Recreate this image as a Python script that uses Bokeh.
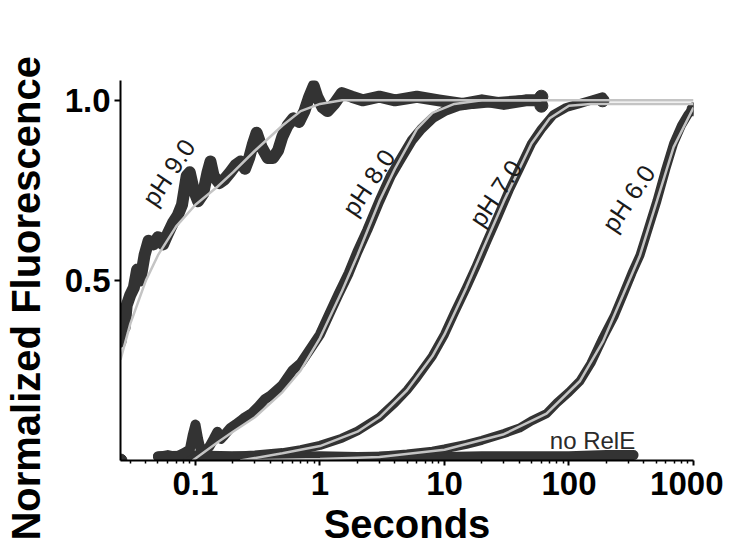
from bokeh.plotting import figure
from bokeh.models import Range1d, FixedTicker, CustomJSTickFormatter
from bokeh.core.properties import value
from bokeh.embed import file_html
from bokeh.resources import INLINE

# ---------------- data ----------------
ph9_t = [0.025, 0.026, 0.027, 0.028, 0.030, 0.032, 0.034, 0.036, 0.039, 0.042, 0.046, 0.050,
         0.055, 0.060, 0.066, 0.072, 0.078, 0.085, 0.090, 0.097, 0.105, 0.115, 0.125, 0.132,
         0.140, 0.155, 0.170, 0.190, 0.210, 0.230, 0.250, 0.270, 0.290, 0.310, 0.340, 0.380,
         0.420, 0.460, 0.500, 0.550, 0.610, 0.680, 0.750, 0.820, 0.890, 0.950, 1.05, 1.15,
         1.3, 1.5, 1.8, 2.2, 3.0, 4.0, 6.0, 9.0, 14.0, 20.0, 30.0, 45.0, 60.0]
ph9_y = [0.33, 0.40, 0.37, 0.43, 0.46, 0.48, 0.53, 0.50, 0.57, 0.61, 0.60, 0.62,
         0.60, 0.63, 0.66, 0.68, 0.71, 0.79, 0.80, 0.75, 0.72, 0.74, 0.80, 0.83,
         0.79, 0.77, 0.78, 0.80, 0.82, 0.83, 0.81, 0.84, 0.88, 0.91, 0.87, 0.84,
         0.84, 0.86, 0.90, 0.93, 0.95, 0.94, 0.97, 1.01, 1.04, 1.01, 0.98, 0.97,
         0.99, 1.02, 1.01, 1.00, 1.01, 1.00, 1.01, 1.00, 0.99, 1.00, 0.99, 1.00, 1.00]
ph9_fit_t = [0.025, 0.030, 0.040, 0.050, 0.070, 0.10, 0.15, 0.20, 0.30, 0.50, 0.70, 1.0, 1.5, 1000]
ph9_fit_y = [0.28, 0.38, 0.50, 0.57, 0.65, 0.71, 0.76, 0.80, 0.86, 0.93, 0.97, 0.99, 1.00, 1.00]

ph8_t = [0.05, 0.06, 0.07, 0.08, 0.09, 0.095, 0.10, 0.105, 0.11, 0.12, 0.13, 0.14, 0.15, 0.16,
         0.17, 0.19, 0.21, 0.23, 0.25, 0.28, 0.32, 0.36, 0.40, 0.50, 0.60, 0.70, 0.80, 1.0,
         1.2, 1.4, 1.7, 2.0, 2.4, 3.0, 3.7, 4.5, 5.5, 6.5, 8.0, 10.0, 13.0, 17.0, 25.0, 40.0, 60.0]
ph8_y = [0.01, 0.015, 0.01, 0.02, 0.03, 0.07, 0.10, 0.06, 0.03, 0.025, 0.04, 0.06, 0.08, 0.06,
         0.07, 0.09, 0.10, 0.11, 0.12, 0.13, 0.15, 0.17, 0.18, 0.21, 0.25, 0.27, 0.30, 0.35,
         0.41, 0.46, 0.52, 0.58, 0.64, 0.72, 0.79, 0.84, 0.89, 0.92, 0.95, 0.97, 0.985, 0.99,
         0.995, 1.00, 1.00]
ph8_fit_t = [0.095, 0.15, 0.20, 0.30, 0.50, 0.70, 1.0, 1.5, 2.0, 3.0, 4.0, 6.0, 8.0, 12.0, 20.0, 60.0]
ph8_fit_y = [0.00, 0.05, 0.08, 0.12, 0.19, 0.25, 0.34, 0.47, 0.57, 0.72, 0.81, 0.92, 0.965, 0.99, 1.00, 1.00]

ph7_t = [0.10, 0.20, 0.30, 0.50, 0.70, 1.0, 1.5, 2.0, 3.0, 4.0, 5.0, 6.0, 8.0, 10.0, 12.0, 15.0,
         18.0, 22.0, 27.0, 33.0, 40.0, 50.0, 60.0, 75.0, 95.0, 120.0, 150.0, 186.0]
ph7_y = [0.01, 0.012, 0.015, 0.022, 0.03, 0.042, 0.062, 0.082, 0.12, 0.16, 0.195, 0.23, 0.29, 0.35,
         0.41, 0.48, 0.54, 0.61, 0.68, 0.75, 0.81, 0.88, 0.92, 0.96, 0.98, 0.99, 1.00, 1.01]
ph7_fit_t = [0.23, 0.5, 1.0, 2.0, 3.0, 5.0, 8.0, 10.0, 15.0, 20.0, 30.0, 40.0, 50.0, 70.0, 100.0, 150.0, 1000.0]
ph7_fit_y = [0.0, 0.02, 0.04, 0.08, 0.12, 0.195, 0.29, 0.35, 0.48, 0.58, 0.72, 0.81, 0.88, 0.95, 0.985, 0.99, 0.99]

ph6_t = [0.2, 0.5, 1.0, 2.0, 3.0, 5.0, 8.0, 10.0, 15.0, 20.0, 30.0, 40.0, 50.0, 66.0, 80.0, 100.0,
         122.0, 150.0, 187.0, 230.0, 272.0, 320.0, 372.0, 430.0, 508.0, 600.0, 692.0, 800.0, 900.0, 1000.0]
ph6_y = [0.005, 0.007, 0.008, 0.01, 0.012, 0.018, 0.026, 0.032, 0.045, 0.056, 0.075, 0.09, 0.11, 0.13,
         0.16, 0.19, 0.22, 0.27, 0.34, 0.40, 0.46, 0.52, 0.57, 0.64, 0.72, 0.81, 0.88, 0.93, 0.96, 0.98]
ph6_fit_t = [0.23, 1.0, 3.0, 10.0, 30.0, 66.0, 122.0, 187.0, 272.0, 372.0, 508.0, 692.0, 1000.0]
ph6_fit_y = [0.0, 0.004, 0.01, 0.03, 0.073, 0.13, 0.22, 0.33, 0.46, 0.57, 0.72, 0.87, 0.98]

norele_t = [0.05, 0.1, 0.2, 0.5, 1.0, 2.0, 5.0, 10.0, 20.0, 50.0, 100.0, 200.0, 330.0]
norele_y = [0.012, 0.014, 0.012, 0.010, 0.012, 0.010, 0.012, 0.010, 0.012, 0.012, 0.012, 0.015, 0.015]

end_t = [0.025, 60.0, 60.0, 186.0, 1000.0]
end_y = [0.0, 1.01, 0.985, 1.0, 0.975]

label_text = ["pH 9.0", "pH 8.0", "pH 7.0", "pH 6.0"]
label_t = [0.0607, 2.45, 25.7, 300.0]
label_y = [0.80, 0.772, 0.742, 0.728]

x_ticks = [0.1, 1, 10, 100, 1000]
x_minor = [0.03, 0.04, 0.05, 0.06, 0.07, 0.08, 0.09,
           0.2, 0.3, 0.4, 0.5, 0.6, 0.7, 0.8, 0.9,
           2, 3, 4, 5, 6, 7, 8, 9,
           20, 30, 40, 50, 60, 70, 80, 90,
           200, 300, 400, 500, 600, 700, 800, 900]
y_ticks = [0.5, 1.0]

# ---------------- figure ----------------
DARK = "#333333"
FIT = "#c4c4c4"
FONT = "Liberation Sans"

p = figure(width=723, height=549, x_axis_type="log",
           x_range=Range1d(0.025, 1000), y_range=Range1d(0, 1.055),
           output_backend="svg", toolbar_location=None,
           min_border_left=112, min_border_right=30, min_border_top=80, min_border_bottom=89)
p.outline_line_color = None
p.grid.visible = False
p.background_fill_color = "white"
p.border_fill_color = "white"

# data curves
p.line(norele_t, norele_y, line_color=DARK, line_width=10, line_cap="round", line_join="round")
p.line(ph6_t, ph6_y, line_color=DARK, line_width=9, line_cap="round", line_join="round")
p.line(ph7_t, ph7_y, line_color=DARK, line_width=9, line_cap="round", line_join="round")
p.line(ph8_t, ph8_y, line_color=DARK, line_width=10, line_cap="round", line_join="round")
p.line(ph9_t, ph9_y, line_color=DARK, line_width=12, line_cap="round", line_join="round")
p.scatter(end_t, end_y, size=13, fill_color=DARK, line_color=DARK)

# fits
for ft, fy in [(ph9_fit_t, ph9_fit_y), (ph8_fit_t, ph8_fit_y), (ph7_fit_t, ph7_fit_y), (ph6_fit_t, ph6_fit_y)]:
    p.line(ft, fy, line_color=FIT, line_width=2.5)

# labels
p.text(label_t, label_y, text=label_text, angle=0.98, text_align="center", text_baseline="middle",
       text_font=value(FONT), text_font_size="25px", text_color="#1a1a1a")
p.text([154.5], [0.056], text=["no RelE"], text_align="center", text_baseline="middle",
       text_font=value(FONT), text_font_size="24px", text_color="#2a2a2a")

# axes
for ax in (p.xaxis[0], p.yaxis[0]):
    ax.axis_line_color = "black"
    ax.axis_line_width = 2
    ax.major_tick_line_color = "black"
    ax.major_tick_line_width = 2
    ax.minor_tick_line_color = "black"
    ax.minor_tick_line_width = 1.5
    ax.major_tick_in = 0
    ax.minor_tick_in = 0
    ax.major_label_text_font = FONT
    ax.major_label_text_font_style = "bold"
    ax.major_label_text_font_size = "33px"
    ax.major_label_text_color = "black"
    ax.axis_label_text_font = FONT
    ax.axis_label_text_font_style = "bold"
    ax.axis_label_text_font_size = "40px"
    ax.axis_label_text_color = "black"

xa = p.xaxis[0]
xa.ticker = FixedTicker(ticks=x_ticks, minor_ticks=x_minor)
xa.formatter = CustomJSTickFormatter(code="return tick.toString();")
xa.major_tick_out = 5
xa.minor_tick_out = 3
xa.major_label_standoff = 6
xa.axis_label = "Seconds"
xa.axis_label_standoff = 4

ya = p.yaxis[0]
ya.ticker = FixedTicker(ticks=y_ticks, minor_ticks=[])
ya.formatter = CustomJSTickFormatter(code="return tick.toFixed(1);")
ya.major_tick_out = 6
ya.major_label_standoff = 4
# trailing no-break spaces shift the centred title down a little, as in the reference
ya.axis_label = "Normalized Fluorescence" + "\u00a0" * 5
ya.axis_label_standoff = 14

open("out.html", "w").write(file_html(p, INLINE))
